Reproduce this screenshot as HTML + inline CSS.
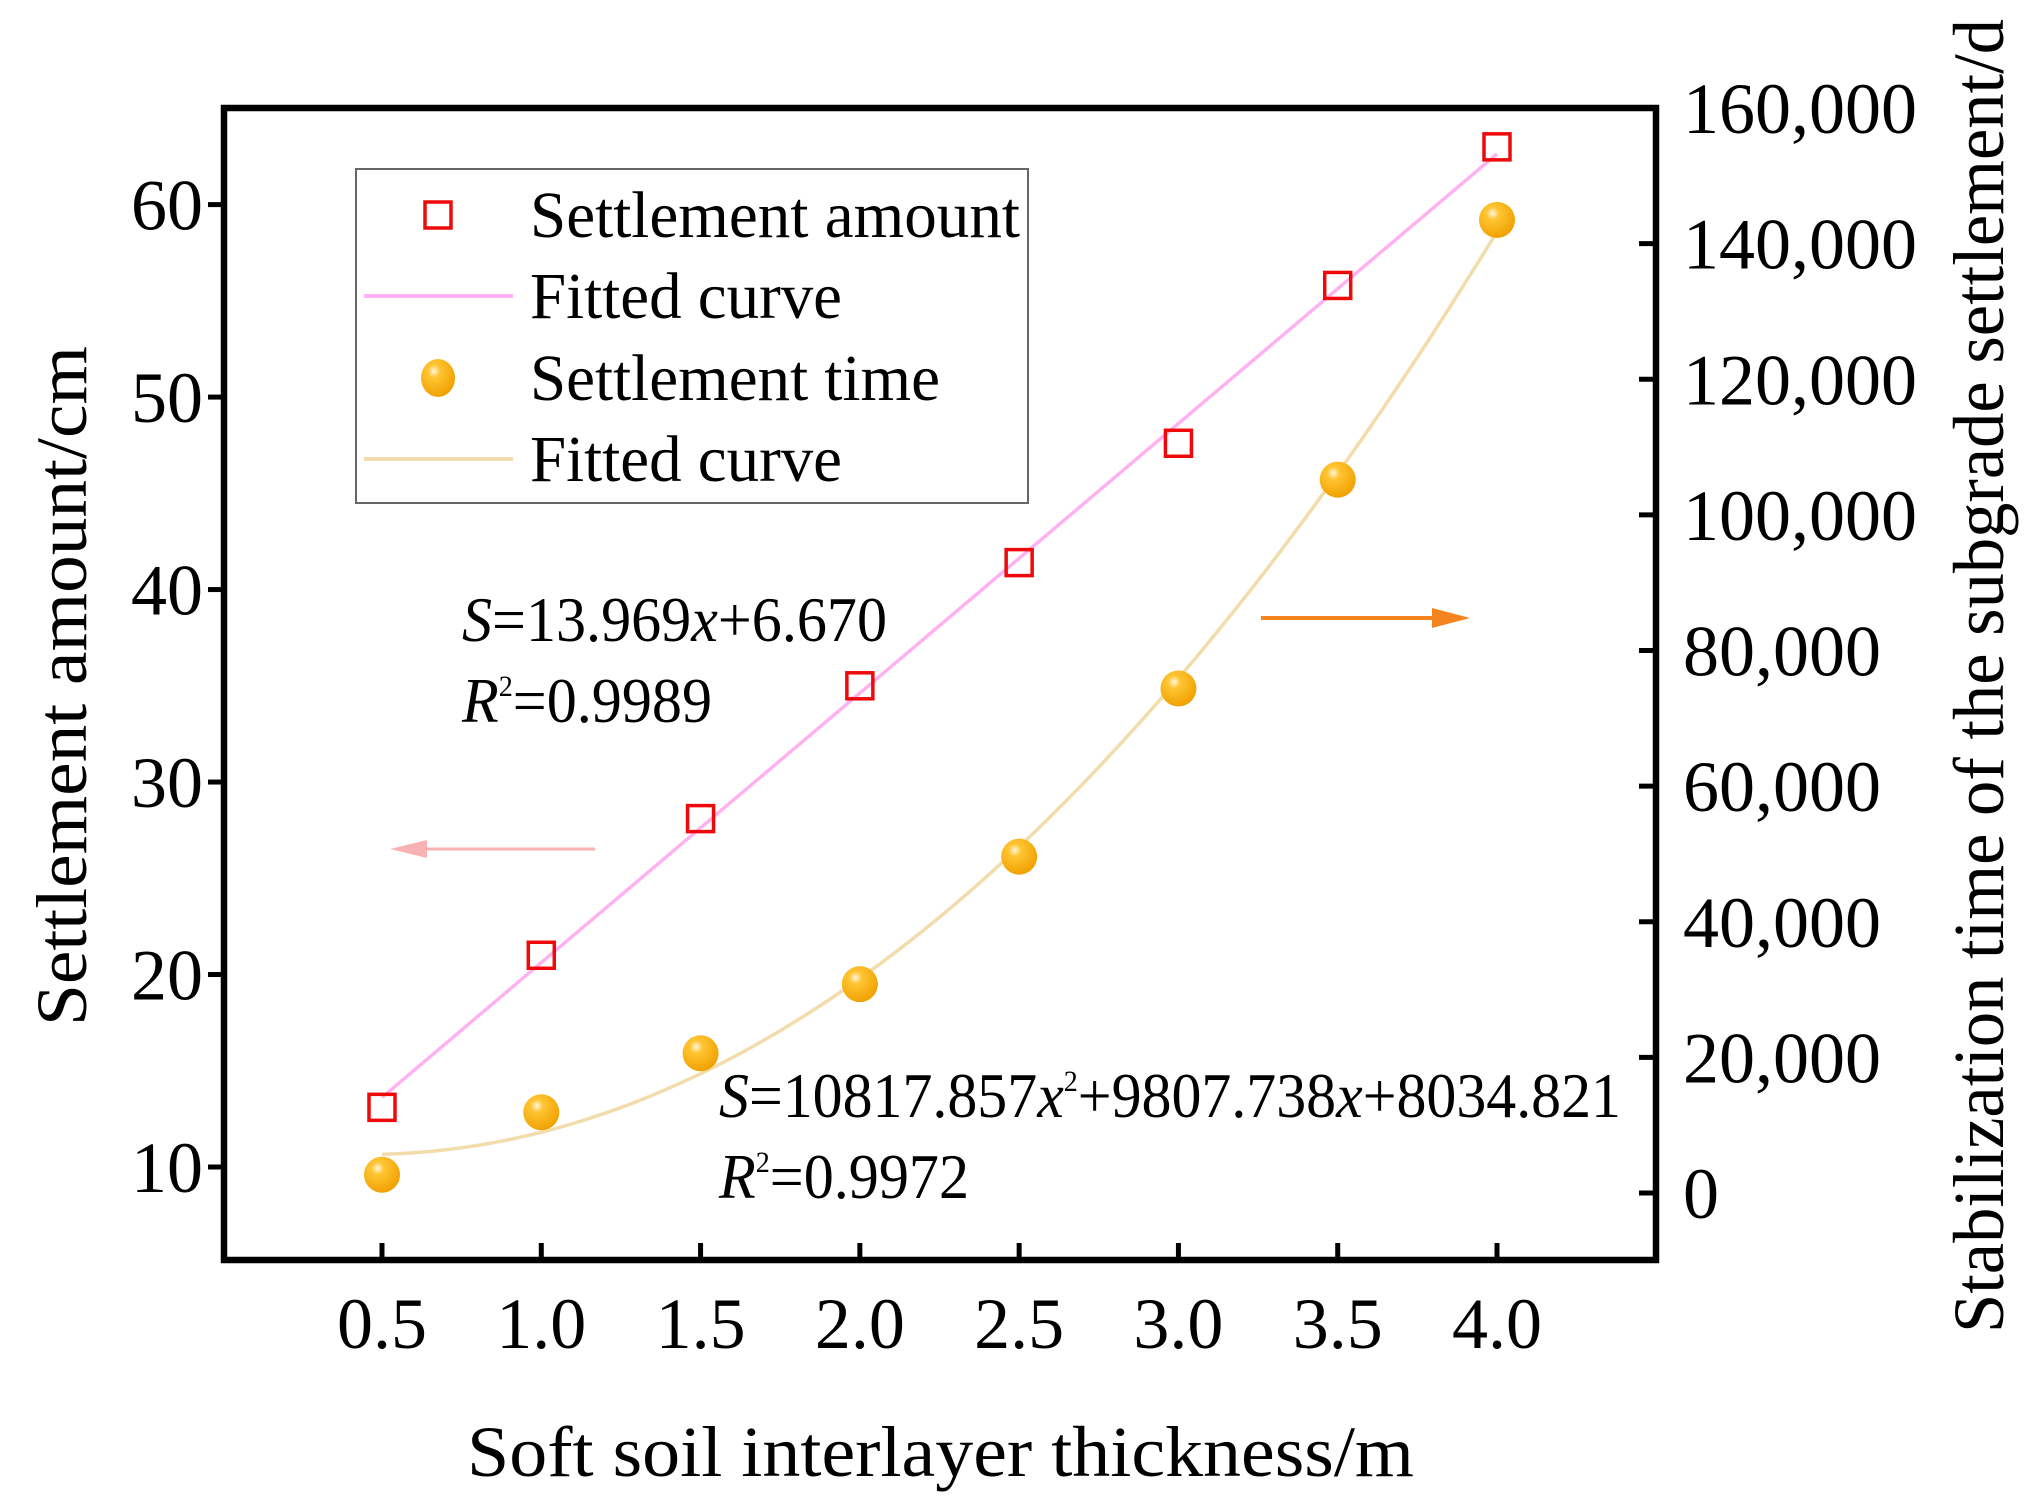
<!DOCTYPE html>
<html><head><meta charset="utf-8"><style>
html,body{margin:0;padding:0;background:#fff;overflow:hidden;}
svg{display:block;font-family:"Liberation Serif",serif;transform:translate(-5px,-4px);}
</style></head><body>
<svg id="chart" width="2034" height="1512" viewBox="0 0 2034 1512" xmlns="http://www.w3.org/2000/svg">
<defs>
<radialGradient id="ball" cx="0.38" cy="0.32" r="0.7">
<stop offset="0" stop-color="#fff6dc"/><stop offset="0.25" stop-color="#ffc533"/><stop offset="1" stop-color="#f0a000"/>
</radialGradient>
</defs>
<g id="plot"></g>
</svg>
<script>
const xCats = [0.5, 1.0, 1.5, 2.0, 2.5, 3.0, 3.5, 4.0];
const xTickLabels = ["0.5","1.0","1.5","2.0","2.5","3.0","3.5","4.0"];
const settlementAmount = [13.1, 21.0, 28.1, 35.0, 41.4, 47.6, 55.8, 63.0];
const settlementTime = [2700, 11900, 20600, 30800, 49600, 74400, 105200, 143500];
const leftTicks = [10, 20, 30, 40, 50, 60];
const leftTickLabels = ["10","20","30","40","50","60"];
const rightTicks = [0, 20000, 40000, 60000, 80000, 100000, 120000, 140000, 160000];
const rightTickLabels = ["0","20,000","40,000","60,000","80,000","100,000","120,000","140,000","160,000"];

const NS = "http://www.w3.org/2000/svg";
const g = document.getElementById("plot");
const L = 229, R = 1661, T = 112, B = 1264;
const xs = v => 387 + (v - 0.5) * (1502 - 387) / 3.5;
const yl = v => 1171 + (v - 10) * (208.6 - 1171) / 50;
const yr = v => 1197 + v * (112 - 1197) / 160000;
function mk(tag, attrs, parent) {
  const e = document.createElementNS(NS, tag);
  for (const k in attrs) e.setAttribute(k, attrs[k]);
  (parent || g).appendChild(e);
  return e;
}
function txt(s, attrs) { const e = mk("text", attrs); e.textContent = s; return e; }

const n = xCats.length;
let sx=0, sy=0, sxx=0, sxy=0;
for (let i=0;i<n;i++){sx+=xCats[i];sy+=settlementAmount[i];sxx+=xCats[i]*xCats[i];sxy+=xCats[i]*settlementAmount[i];}
const b1 = (n*sxy - sx*sy)/(n*sxx - sx*sx), b0 = (sy - b1*sx)/n;
let l1 = mk("line",{x1:xs(xCats[0]),y1:yl(b0+b1*xCats[0]),x2:xs(xCats[n-1]),y2:yl(b0+b1*xCats[n-1]),stroke:"#ffb2f2","stroke-width":3.5});



function quadFit(x, y){
  let S=[0,0,0,0,0], T2=[0,0,0];
  for (let i=0;i<x.length;i++){for(let p=0;p<5;p++)S[p]+=Math.pow(x[i],p);for(let p=0;p<3;p++)T2[p]+=y[i]*Math.pow(x[i],p);}
  const M=[[S[0],S[1],S[2],T2[0]],[S[1],S[2],S[3],T2[1]],[S[2],S[3],S[4],T2[2]]];
  for(let c=0;c<3;c++){for(let r=c+1;r<3;r++){const f=M[r][c]/M[c][c];for(let k=c;k<4;k++)M[r][k]-=f*M[c][k];}}
  const a=[0,0,0];
  for(let r=2;r>=0;r--){let s=M[r][3];for(let k=r+1;k<3;k++)s-=M[r][k]*a[k];a[r]=s/M[r][r];}
  return a;
}
const q = quadFit(xCats, settlementTime);
let d = "";
for (let i=0;i<=70;i++){const x=xCats[0]+(xCats[n-1]-xCats[0])*i/70;const y=q[0]+q[1]*x+q[2]*x*x;d+=(i?"L":"M")+xs(x).toFixed(1)+","+yr(y).toFixed(1);}
let l2 = mk("path",{d:d,fill:"none",stroke:"#f3dcab","stroke-width":3.5});



for (let i=0;i<n;i++){
  const s = mk("rect",{x:xs(xCats[i])-13,y:yl(settlementAmount[i])-13,width:26,height:26,fill:"none",stroke:"#ee0a0a","stroke-width":3.5});
  
  
  const c = mk("circle",{cx:xs(xCats[i]),cy:yr(settlementTime[i]),r:18,fill:"url(#ball)"});
  
  
}

let fr = mk("rect",{x:L,y:T,width:R-L,height:B-T,fill:"none",stroke:"#000","stroke-width":6.5});



for (let i=0;i<n;i++){
  const x = xs(xCats[i]);
  mk("line",{x1:x,y1:B,x2:x,y2:B-17,stroke:"#000","stroke-width":5});
  const t = txt(xTickLabels[i],{x:x,y:1352,"font-size":72,"text-anchor":"middle"});
  
  
}
for (let i=0;i<leftTicks.length;i++){
  const y = yl(leftTicks[i]);
  mk("line",{x1:L,y1:y,x2:L-16,y2:y,stroke:"#000","stroke-width":5});
  const t = txt(leftTickLabels[i],{x:208,y:y+25,"font-size":72,"text-anchor":"end"});
  
  
}
for (let i=0;i<rightTicks.length;i++){
  const y = yr(rightTicks[i]);
  mk("line",{x1:R,y1:y,x2:R-17,y2:y,stroke:"#000","stroke-width":5});
  const t = txt(rightTickLabels[i],{x:1688,y:y+25,"font-size":72});
  
  
}
</script>
<svg style="position:absolute;left:0;top:0" width="2034" height="1512" viewBox="0 0 2034 1512" xmlns="http://www.w3.org/2000/svg" font-family="Liberation Serif, serif">
<text x="472" y="1480" font-size="72" textLength="947" lengthAdjust="spacingAndGlyphs">Soft soil interlayer thickness/m</text>
<text transform="translate(91,1030) rotate(-90)" font-size="72" textLength="680" lengthAdjust="spacingAndGlyphs">Settlement amount/cm</text>
<text transform="translate(2008,1337) rotate(-90)" font-size="72" textLength="1314" lengthAdjust="spacingAndGlyphs">Stabilization time of the subgrade settlement/d</text>
<g>
<rect x="361" y="173" width="672" height="334" fill="#fff" stroke="#666" stroke-width="2"/>
<rect x="430" y="206" width="26" height="26" fill="none" stroke="#ee0a0a" stroke-width="3.5"/>
<line x1="369" y1="300" x2="518" y2="300" stroke="#ffb2f2" stroke-width="4"/>
<ellipse cx="443" cy="382" rx="17" ry="19" fill="url(#ball)"/>
<line x1="369" y1="463" x2="518" y2="463" stroke="#f3dcab" stroke-width="4"/>
<text x="535" y="241" font-size="66" textLength="490" lengthAdjust="spacingAndGlyphs">Settlement amount</text>
<text x="535" y="322" font-size="66" textLength="312" lengthAdjust="spacingAndGlyphs">Fitted curve</text>
<text x="535" y="404" font-size="66" textLength="410" lengthAdjust="spacingAndGlyphs">Settlement time</text>
<text x="535" y="485" font-size="66" textLength="312" lengthAdjust="spacingAndGlyphs">Fitted curve</text>
</g>
<text x="467" y="645" font-size="64" textLength="425" lengthAdjust="spacingAndGlyphs"><tspan font-style="italic">S</tspan>=13.969<tspan font-style="italic">x</tspan>+6.670</text>
<text x="467" y="726" font-size="64" textLength="250" lengthAdjust="spacingAndGlyphs"><tspan font-style="italic">R</tspan><tspan font-size="30" dy="-26">2</tspan><tspan dy="26">=0.9989</tspan></text>
<text x="724" y="1121" font-size="64" textLength="902" lengthAdjust="spacingAndGlyphs"><tspan font-style="italic">S</tspan>=10817.857<tspan font-style="italic">x</tspan><tspan font-size="30" dy="-26">2</tspan><tspan dy="26">+9807.738</tspan><tspan font-style="italic">x</tspan>+8034.821</text>
<text x="724" y="1202" font-size="64" textLength="250" lengthAdjust="spacingAndGlyphs"><tspan font-style="italic">R</tspan><tspan font-size="30" dy="-26">2</tspan><tspan dy="26">=0.9972</tspan></text>
<g>
<line x1="600" y1="853" x2="420" y2="853" stroke="#f7b3b3" stroke-width="3"/>
<polygon points="395,853 432,844 432,862" fill="#f7b3b3"/>
</g>
<g>
<line x1="1266" y1="622" x2="1445" y2="622" stroke="#f5841f" stroke-width="4"/>
<polygon points="1475,622 1437,612 1437,632" fill="#f5841f"/>
</g>
</svg>
</body></html>
